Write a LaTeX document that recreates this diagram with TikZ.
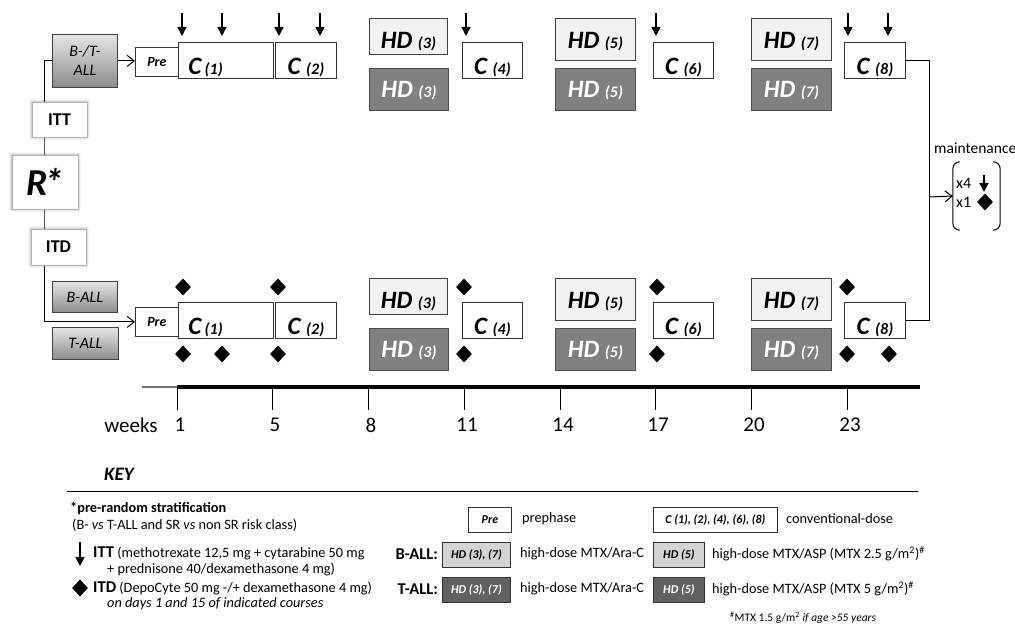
\documentclass[tikz,border=0pt]{standalone}
\usepackage{fontspec}
\setmainfont{Carlito}
\usetikzlibrary{arrows.meta,shapes.geometric,shadows.blur}

% course label: big letters, small number
\newcommand{\crs}[2]{{\fontsize{25}{25}\selectfont #1\ }{\fontsize{16}{16}\selectfont(#2)}}

\tikzset{
  box/.style={draw=black!80, line width=0.8pt, fill=white, inner sep=0pt, anchor=north west, font=\bfseries\itshape},
  lite/.style={box, fill=black!5, draw=black!75},
  dark/.style={box, fill=black!50, draw=black!70, text=white},
  grad/.style={box, draw=black!75, top color=black!10, bottom color=black!45, font=\itshape\fontsize{16}{19}\selectfont, align=center},
  glow/.style={draw=black!30, line width=0.6pt, fill=white, inner sep=0pt, font=\bfseries\fontsize{18}{18}\selectfont,
    blur shadow={shadow xshift=0pt, shadow yshift=0pt, shadow blur radius=3pt, shadow opacity=45}},
  dims/.style n args={3}{minimum width=#1, text height=#2, text depth=#3},
  itt mark/.style={line width=1.6pt, -{Triangle[length=9pt,width=9pt]}},
  itd mark/.style={diamond, fill=black, inner sep=0pt, minimum width=16pt, minimum height=17pt},
  open arrow/.style={line width=1pt, -{Straight Barb[length=7pt,width=11pt]}},
  keytxt/.style={anchor=west, inner sep=0pt, font=\fontsize{14.3}{16}\selectfont},
  keybox/.style={draw=black!80, line width=0.8pt, fill=white, inner sep=0pt, minimum height=25pt, anchor=west,
    font=\bfseries\itshape\fontsize{12}{12}\selectfont},
}

\begin{document}
\begin{tikzpicture}[x=1pt, y=-1pt]
    \useasboundingbox (0,0) rectangle (1015,626);

    % the two arms (ITT on top, ITD below)
    \foreach \dy/\arm in {0/itt, 260/itd} {
        \node[box, dims={43pt}{19pt}{10pt}, font=\bfseries\itshape\fontsize{14}{14}\selectfont] (pre-\arm) at (135,47+\dy) {Pre};
        \node[box, dims={95pt}{32pt}{4pt}, inner xsep=10pt, text width=75pt, align=left] (c1-\arm) at (178,42+\dy) {\crs{C}{1}};
        \node[box, dims={61pt}{32pt}{4pt}] (c2-\arm) at (275,42+\dy) {\crs{C}{2}};
        \node[lite, dims={78pt}{30pt}{6pt}] (hd3a-\arm) at (369,18+\dy) {\crs{HD}{3}};
        \node[dark, dims={79pt}{29pt}{13pt}] (hd3b-\arm) at (369,68+\dy) {\crs{HD}{3}};
        \node[box, dims={60pt}{32pt}{4pt}] (c4-\arm) at (462,42+\dy) {\crs{C}{4}};
        \node[lite, dims={80pt}{30pt}{12pt}] (hd5a-\arm) at (555,18+\dy) {\crs{HD}{5}};
        \node[dark, dims={80pt}{29pt}{13pt}] (hd5b-\arm) at (555,68+\dy) {\crs{HD}{5}};
        \node[box, dims={60pt}{32pt}{4pt}] (c6-\arm) at (653,42+\dy) {\crs{C}{6}};
        \node[lite, dims={80pt}{30pt}{12pt}] (hd7a-\arm) at (751,18+\dy) {\crs{HD}{7}};
        \node[dark, dims={80pt}{29pt}{13pt}] (hd7b-\arm) at (751,68+\dy) {\crs{HD}{7}};
        \node[box, dims={61pt}{32pt}{4pt}] (c8-\arm) at (844,42+\dy) {\crs{C}{8}};
    }

    \node[grad, minimum width=65pt, minimum height=53pt] (btall) at (52,34) {B-/T-\\ALL};
    \node[grad, minimum width=65pt, minimum height=31pt] (ball) at (52,281) {B-ALL};
    \node[grad, minimum width=66pt, minimum height=32pt] (tall) at (52,327) {T-ALL};

    \coordinate (spine) at (44,200);
    \draw[open arrow] (btall.east) -- (btall.east -| pre-itt.west);
    \draw[open arrow] (btall.west) -| (spine) |- (pre-itd.west);

    \node[glow, minimum width=55pt, minimum height=35pt] (itt) at (59.5,119.5) {ITT};
    \node[glow, minimum width=66pt, minimum height=54pt, font=\bfseries\itshape\fontsize{38}{38}\selectfont] (rstar) at (45,182) {R\kern-3pt*};
    \node[glow, minimum width=55pt, minimum height=36pt] (itd) at (58.5,247) {ITD};

    % intrathecal marks
    \foreach \x in {182,222,279,320,466,656,848,888}
        \draw[itt mark] (\x,13) -- (\x,36);
    \foreach \x [count=\i] in {183,278,464,657,847}
        \node[itd mark] (up\i) at (\x,287) {};
    \foreach \x [count=\i] in {183,222,278,464,657,847,889}
        \node[itd mark] (dn\i) at (\x,354) {};

    % maintenance
    \coordinate (join) at (929,197);
    \draw[line width=1pt] (c8-itt.east) -| (join) |- (c8-itd.east);
    \node[minimum width=47pt, minimum height=68pt, inner sep=0pt] (maint) at (976.5,196) {};
    \draw[open arrow] (join) -- (maint.west);
    \draw[line width=1pt, rounded corners=7pt] ([xshift=7pt]maint.north west) -- (maint.north west)
        -- (maint.south west) -- ([xshift=7pt]maint.south west);
    \draw[line width=1pt, rounded corners=7pt] ([xshift=-7pt]maint.north east) -- (maint.north east)
        -- (maint.south east) -- ([xshift=-7pt]maint.south east);
    \node[keytxt, font=\fontsize{15.5}{16}\selectfont] (mlabel) at (934,148) {maintenance};
    \node[keytxt, font=\fontsize{16}{16}\selectfont] (x4) at (956,183) {x4};
    \node[keytxt, font=\fontsize{16}{16}\selectfont] (x1) at (956,202) {x1};
    \draw[itt mark] (984,175) -- (984,192);
    \node[itd mark, minimum width=16pt, minimum height=17pt] (mdia) at (985,202) {};

    % time axis
    \draw[black!55, line width=1.5pt] (142,387) -- (177,387);
    \draw[line width=4pt] (177,387) -- (920,387);
    \foreach \x/\w in {177/1,272/5,368/8,464/11,560/14,655/17,751/20,847/23} {
        \draw[line width=0.8pt] (\x,387) -- (\x,410);
        \node[font=\fontsize{21}{21}\selectfont] (wk\w) at (\x+3,425) {\w};
    }
    \node[font=\fontsize{21}{21}\selectfont] (weeks) at (131,425) {weeks};

    % key
    \node[font=\bfseries\itshape\fontsize{19}{19}\selectfont] (key) at (119,474) {KEY};
    \draw[line width=0.8pt] (67,491) -- (918,491);
    \node[keytxt] (strat) at (70,509) {\textbf{*pre-random stratification}};
    \node[keytxt] (strat2) at (72,525) {(B- \textit{vs} T-ALL and SR \textit{vs} non SR risk class)};
    \draw[itt mark] (80,542) -- (80,566);
    \node[keytxt] (kitt) at (93,553) {{\bfseries\fontsize{16.5}{16}\selectfont ITT} (methotrexate 12,5 mg + cytarabine 50 mg};
    \node[keytxt] (kitt2) at (107,569) {+ prednisone 40/dexamethasone 4 mg)};
    \node[itd mark] (kdia) at (80,588) {};
    \node[keytxt] (kitd) at (93,588) {{\bfseries\fontsize{16.5}{16}\selectfont ITD} (DepoCyte 50 mg -/+ dexamethasone 4 mg)};
    \node[keytxt] (kitd2) at (107,604) {\textit{on days 1 and 15 of indicated courses}};

    \node[keybox, minimum width=43pt] (kpre) at (468,519.5) {Pre};
    \node[keytxt] (kpretxt) at (522,519) {prephase};
    \node[keybox, minimum width=124pt] (kc) at (653,519.5) {C (1), (2), (4), (6), (8)};
    \node[keytxt] (kctxt) at (786,519) {conventional-dose};

    \node[keytxt, anchor=east, font=\bfseries\fontsize{16.5}{16}\selectfont] (kb) at (438,554) {B-ALL:};
    \node[keybox, minimum width=68pt, fill=black!17] (kb37) at (442,554.5) {HD (3), (7)};
    \node[keytxt] (kb37txt) at (520,554) {high-dose MTX/Ara-C};
    \node[keybox, minimum width=51pt, fill=black!17] (kb5) at (653,554.5) {HD (5)};
    \node[keytxt] (kb5txt) at (712,554) {high-dose MTX/ASP (MTX 2.5 g/m\textsuperscript{2})\textsuperscript{\#}};

    \node[keytxt, anchor=east, font=\bfseries\fontsize{16.5}{16}\selectfont] (kt) at (438,589) {T-ALL:};
    \node[keybox, minimum width=68pt, fill=black!62, text=white] (kt37) at (442,590) {HD (3), (7)};
    \node[keytxt] (kt37txt) at (520,589) {high-dose MTX/Ara-C};
    \node[keybox, minimum width=51pt, fill=black!62, text=white] (kt5) at (653,590) {HD (5)};
    \node[keytxt] (kt5txt) at (712,589) {high-dose MTX/ASP (MTX 5 g/m\textsuperscript{2})\textsuperscript{\#}};

    \node[keytxt, font=\fontsize{11.5}{12}\selectfont] (fnote) at (730,618) {\textsuperscript{\#}MTX 1.5 g/m\textsuperscript{2} \textit{if age >55 years}};
\end{tikzpicture}
\end{document}
